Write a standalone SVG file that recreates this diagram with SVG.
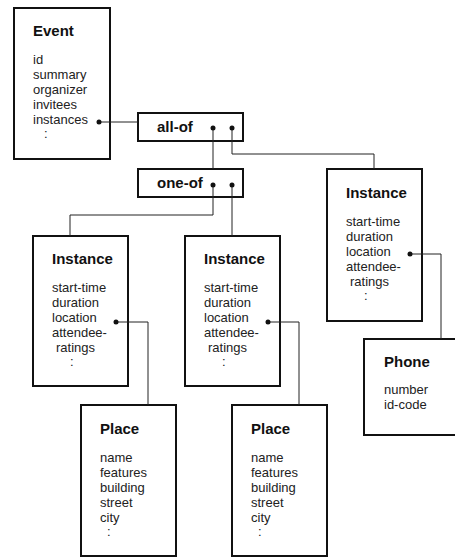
<svg xmlns="http://www.w3.org/2000/svg" width="455" height="558" viewBox="0 0 455 558">
<style>
.box{fill:#fff;stroke:#111;stroke-width:2}
.t{font-family:"Liberation Sans",Arial,sans-serif;font-size:15px;font-weight:bold;fill:#111}
.i{font-family:"Liberation Sans",Arial,sans-serif;font-size:13px;fill:#222}
.c{fill:none;stroke:#222;stroke-width:1}
.d{fill:#111}
</style>
<rect width="455" height="558" fill="#fff"/>
<g id="event">
<rect class="box" x="14" y="8" width="96" height="151"/>
<text class="t" x="33" y="36">Event</text>
<text class="i" x="33" y="64">id</text>
<text class="i" x="33" y="79">summary</text>
<text class="i" x="33" y="94">organizer</text>
<text class="i" x="33" y="109">invitees</text>
<text class="i" x="33" y="124">instances</text>
<text class="i" x="44" y="138">:</text>
</g>
<g id="all-of">
<rect class="box" x="138" y="113" width="105" height="28"/>
<text class="t" x="157" y="132">all-of</text>
</g>
<g id="one-of">
<rect class="box" x="138" y="169" width="105" height="28"/>
<text class="t" x="157" y="188">one-of</text>
</g>
<g id="instance1">
<rect class="box" x="33" y="236" width="95" height="150"/>
<text class="t" x="52" y="264">Instance</text>
<text class="i" x="52" y="292">start-time</text>
<text class="i" x="52" y="307">duration</text>
<text class="i" x="52" y="322">location</text>
<text class="i" x="52" y="337">attendee-</text>
<text class="i" x="56" y="352">ratings</text>
<text class="i" x="70" y="366">:</text>
</g>
<g id="instance2">
<rect class="box" x="185" y="236" width="95" height="150"/>
<text class="t" x="204" y="264">Instance</text>
<text class="i" x="204" y="292">start-time</text>
<text class="i" x="204" y="307">duration</text>
<text class="i" x="204" y="322">location</text>
<text class="i" x="204" y="337">attendee-</text>
<text class="i" x="208" y="352">ratings</text>
<text class="i" x="222" y="366">:</text>
</g>
<g id="instance3">
<rect class="box" x="327" y="169" width="95" height="152"/>
<text class="t" x="346" y="198">Instance</text>
<text class="i" x="346" y="226">start-time</text>
<text class="i" x="346" y="241">duration</text>
<text class="i" x="346" y="256">location</text>
<text class="i" x="346" y="271">attendee-</text>
<text class="i" x="350" y="286">ratings</text>
<text class="i" x="364" y="300">:</text>
</g>
<g id="place1">
<rect class="box" x="81" y="405" width="95" height="151"/>
<text class="t" x="100" y="434">Place</text>
<text class="i" x="100" y="462">name</text>
<text class="i" x="100" y="477">features</text>
<text class="i" x="100" y="492">building</text>
<text class="i" x="100" y="507">street</text>
<text class="i" x="100" y="522">city</text>
<text class="i" x="107" y="536">:</text>
</g>
<g id="place2">
<rect class="box" x="232" y="405" width="95" height="151"/>
<text class="t" x="251" y="434">Place</text>
<text class="i" x="251" y="462">name</text>
<text class="i" x="251" y="477">features</text>
<text class="i" x="251" y="492">building</text>
<text class="i" x="251" y="507">street</text>
<text class="i" x="251" y="522">city</text>
<text class="i" x="258" y="536">:</text>
</g>
<g id="phone">
<rect class="box" x="364" y="339" width="95" height="96"/>
<text class="t" x="384" y="367">Phone</text>
<text class="i" x="384" y="394">number</text>
<text class="i" x="384" y="409">id-code</text>
</g>
<g id="connectors">
<path class="c" d="M99,122 H138"/>
<path class="c" d="M213,128 V169"/>
<path class="c" d="M232,128 V154 H374 V169"/>
<path class="c" d="M213,185 V215 H70 V236"/>
<path class="c" d="M232,185 V236"/>
<path class="c" d="M116,322 H148 V405"/>
<path class="c" d="M268,322 H299 V405"/>
<path class="c" d="M410,254 H441 V339"/>
<circle class="d" cx="99" cy="122" r="2.5"/>
<circle class="d" cx="213" cy="128" r="2.5"/>
<circle class="d" cx="232" cy="128" r="2.5"/>
<circle class="d" cx="213" cy="185" r="2.5"/>
<circle class="d" cx="232" cy="185" r="2.5"/>
<circle class="d" cx="116" cy="322" r="2.5"/>
<circle class="d" cx="268" cy="322" r="2.5"/>
<circle class="d" cx="410" cy="254" r="2.5"/>
</g>
</svg>
